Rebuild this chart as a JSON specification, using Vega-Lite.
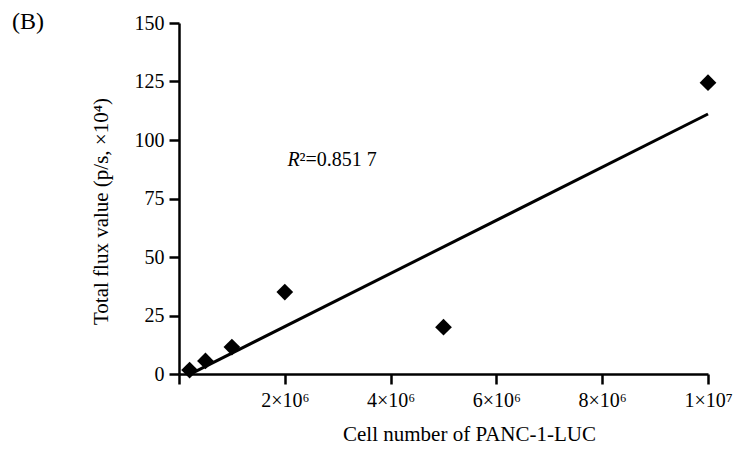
{
  "$schema": "https://vega.github.io/schema/vega-lite/v6.json",
  "width": 529,
  "height": 351,
  "autosize": {"type": "none"},
  "padding": {"left": 179, "top": 23, "right": 26, "bottom": 80},
  "background": "white",
  "config": {
    "view": {"stroke": null},
    "font": "Liberation Serif"
  },
  "title": {
    "text": "(B)",
    "anchor": "start",
    "frame": "group",
    "font": "Liberation Serif",
    "fontSize": 24,
    "fontWeight": "normal",
    "color": "black",
    "dx": -167,
    "dy": 40,
    "baseline": "alphabetic",
    "offset": 0
  },
  "datasets": {
    "points": [
      {"cells": 200000, "flux": 1.7},
      {"cells": 500000, "flux": 5.6},
      {"cells": 1000000, "flux": 11.5},
      {"cells": 2000000, "flux": 35},
      {"cells": 5000000, "flux": 20},
      {"cells": 10000000, "flux": 124.5}
    ],
    "fit": [
      {"cells": 250000, "flux": 0.4},
      {"cells": 10000000, "flux": 111.1}
    ],
    "note": [
      {"cells": 2050000, "flux": 89, "r": "R", "rest": "²=0.851 7"}
    ]
  },
  "layer": [
    {
      "data": {"name": "fit"},
      "mark": {"type": "line", "color": "black", "strokeWidth": 3},
      "encoding": {
        "x": {
          "field": "cells",
          "type": "quantitative",
          "scale": {"domain": [0, 10000000], "nice": false},
          "axis": {
            "values": [0, 2000000, 4000000, 6000000, 8000000, 10000000],
            "labelExpr": "datum.value == 0 ? '' : (datum.value >= 10000000 ? '1×10⁷' : (datum.value / 1000000) + '×10⁶')",
            "grid": false,
            "domainColor": "black",
            "domainWidth": 2.5,
            "tickColor": "black",
            "tickWidth": 2.5,
            "tickSize": 10,
            "labelFont": "Liberation Serif",
            "labelFontSize": 20,
            "labelColor": "black",
            "labelPadding": 6,
            "labelFlush": false,
            "labelOverlap": false,
            "title": "Cell number of PANC-1-LUC",
            "titleFont": "Liberation Serif",
            "titleFontSize": 21,
            "titleFontWeight": "normal",
            "titleColor": "black",
            "titleX": 290,
            "titleY": 66,
            "titleAlign": "center",
            "titleBaseline": "alphabetic",
            "titleAnchor": null
          }
        },
        "y": {
          "field": "flux",
          "type": "quantitative",
          "scale": {"domain": [0, 150], "nice": false},
          "axis": {
            "values": [0, 25, 50, 75, 100, 125, 150],
            "grid": false,
            "domainColor": "black",
            "domainWidth": 2.5,
            "tickColor": "black",
            "tickWidth": 2.5,
            "tickSize": 10,
            "labelFont": "Liberation Serif",
            "labelFontSize": 20,
            "labelColor": "black",
            "labelPadding": 5,
            "labelFlush": false,
            "labelOverlap": false,
            "title": "Total flux value (p/s, ×10⁴)",
            "titleFont": "Liberation Serif",
            "titleFontSize": 21,
            "titleFontWeight": "normal",
            "titleColor": "black",
            "titleX": -78,
            "titleY": 188,
            "titleAngle": -90,
            "titleAlign": "center",
            "titleBaseline": "middle",
            "titleAnchor": null
          }
        }
      }
    },
    {
      "data": {"name": "points"},
      "mark": {"type": "point", "shape": "diamond", "filled": true, "color": "black", "opacity": 1, "size": 280},
      "encoding": {
        "x": {"field": "cells", "type": "quantitative"},
        "y": {"field": "flux", "type": "quantitative"}
      }
    },
    {
      "data": {"name": "note"},
      "mark": {"type": "text", "font": "Liberation Serif", "fontSize": 20, "fontStyle": "italic", "align": "left", "baseline": "alphabetic", "color": "black"},
      "encoding": {
        "x": {"field": "cells", "type": "quantitative"},
        "y": {"field": "flux", "type": "quantitative"},
        "text": {"field": "r"}
      }
    },
    {
      "data": {"name": "note"},
      "mark": {"type": "text", "font": "Liberation Serif", "fontSize": 20, "align": "left", "baseline": "alphabetic", "color": "black", "dx": 12},
      "encoding": {
        "x": {"field": "cells", "type": "quantitative"},
        "y": {"field": "flux", "type": "quantitative"},
        "text": {"field": "rest"}
      }
    }
  ]
}
